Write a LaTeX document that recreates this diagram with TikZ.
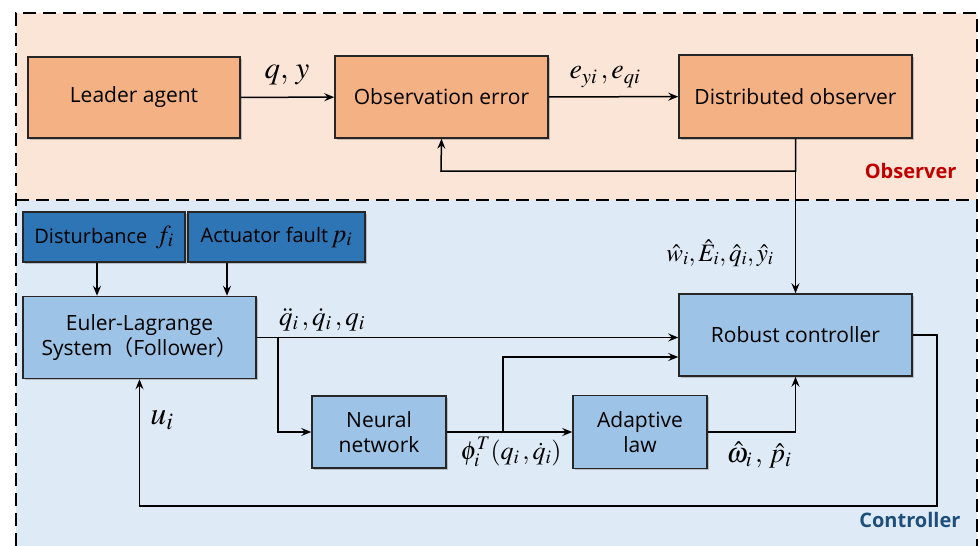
\documentclass[tikz,border=0pt]{standalone}
\usepackage{mathptmx}
\usepackage{fontspec}
\setmainfont{Open Sans}
\newfontfamily\cjk{Noto Sans CJK SC}
\usetikzlibrary{arrows.meta,shadows,calc}
\definecolor{obsbg}{HTML}{FBE5D6}
\definecolor{ctlbg}{HTML}{DEEBF7}
\definecolor{orangebox}{HTML}{F4B183}
\definecolor{lightblue}{HTML}{9DC3E6}
\definecolor{darkblue}{HTML}{2E75B6}
\definecolor{obsred}{HTML}{C00000}
\definecolor{ctlblue}{HTML}{1F4E79}
\tikzset{
  blk/.style={draw=black!85, line width=1.5pt, align=center, inner sep=0pt,
    font=\fontsize{21}{25}\selectfont,
    drop shadow={shadow xshift=1.5pt, shadow yshift=-1.5pt, opacity=0.35, fill=black!60}},
  obox/.style={blk, fill=orangebox},
  lbox/.style={blk, fill=lightblue},
  dbox/.style={blk, fill=darkblue, font=\fontsize{20}{24}\selectfont},
  arr/.style={line width=1.5pt, -{Stealth[length=10pt,width=8pt,inset=3.5pt]}},
  region/.style={line width=2.6pt, dash pattern=on 13pt off 7pt},
  mlab/.style={inner sep=0pt},
}
\begin{document}
\begin{tikzpicture}[x=1pt,y=-1pt]
\useasboundingbox (0,0) rectangle (978,546);
% regions
\fill[obsbg] (16,13) rectangle (977,200);
\fill[ctlbg] (16,200) rectangle (977,546);
\draw[region] (16,546) -- (16,13) -- (977,13) -- (977,546);
\draw[region] (16,200) -- (977,200);
\node[font=\bfseries\fontsize{20}{24}\selectfont, text=obsred, anchor=east] (obslab) at (960,171) {Observer};
\node[font=\bfseries\fontsize{20}{24}\selectfont, text=ctlblue, anchor=east] (ctllab) at (964,520) {Controller};
% blocks
\node[obox, minimum width=212pt, minimum height=81pt] (leader) at (134,97.5) {Leader agent};
\node[obox, minimum width=213pt, minimum height=82pt] (obserr) at (441.5,97) {Observation error};
\node[obox, minimum width=233pt, minimum height=83pt] (distobs) at (795.5,96.5) {Distributed observer};
\node[lbox, minimum width=233pt, minimum height=82pt] (robust) at (795.5,335) {Robust controller};
\node[dbox, minimum width=162pt, minimum height=50pt] (dist) at (104,237) {Disturbance \,{\fontsize{26}{28}\selectfont$f_i$}};
\node[dbox, minimum width=177pt, minimum height=50pt] (act) at (276.5,237) {Actuator fault\,{\fontsize{26}{28}\selectfont$p_i$}};
\node[lbox, minimum width=233pt, minimum height=82pt] (el) at (139.5,337.5) {Euler-Lagrange\\System{\cjk （}Follower{\cjk ）}};
\node[lbox, minimum width=134pt, minimum height=72pt] (nn) at (379,432) {Neural\\network};
\node[lbox, minimum width=134pt, minimum height=73pt] (al) at (640,432) {Adaptive\\law};
% coordinates
\coordinate (fb) at (441,171);
\coordinate (b1) at (278,337.5);
\coordinate (b2) at (503,432);
\coordinate (r1) at (937,506);
% connectors
\draw[arr] (leader) -- (obserr);
\draw[arr] (obserr) -- (distobs);
\draw[arr] (distobs.south) |- (fb) -- (obserr.south);
\draw[arr] (distobs.south) -- (robust.north);
\draw[arr] ([xshift=-7pt]dist.south) -- ([xshift=-7pt]dist.south |- el.north);
\draw[arr] ([xshift=-49.5pt]act.south) -- ([xshift=-49.5pt]act.south |- el.north);
\draw[arr] (el.east) -- (el.east -| robust.west);
\draw[arr] (b1) |- (nn.west);
\draw[arr] (nn.east) -- (al.west);
\draw[arr] (b2) |- (robust.west |- 0,357);
\draw[arr] (al.east) -| (robust.south);
\draw[arr] (robust.east) -| (r1) -| (el.south);
% labels
\node[mlab, font=\fontsize{31}{33}\selectfont] (lqy) at (287,75) {$q,\,y$};
\node[mlab, font=\fontsize{28}{30}\selectfont] (le) at (605,77) {$e_{yi}\,,e_{qi}$};
\node[mlab, font=\fontsize{25}{28}\selectfont] (lhat) at (720,253) {$\hat w_i,\hat E_i,\hat q_i,\hat y_i$};
\node[mlab, font=\fontsize{27}{30}\selectfont] (lq) at (322,320) {$\ddot q_i\,,\dot q_i\,,q_i$};
\node[mlab, font=\fontsize{32}{34}\selectfont] (lu) at (162,420) {$u_i$};
\node[mlab, font=\fontsize{26}{28}\selectfont] (lphi) at (511,452) {$\phi_i^T(q_i\,,\dot q_i)$};
\node[mlab, font=\fontsize{28}{30}\selectfont] (lw) at (759,455) {$\hat\omega_i\,,\,\hat p_i$};
\end{tikzpicture}
\end{document}
